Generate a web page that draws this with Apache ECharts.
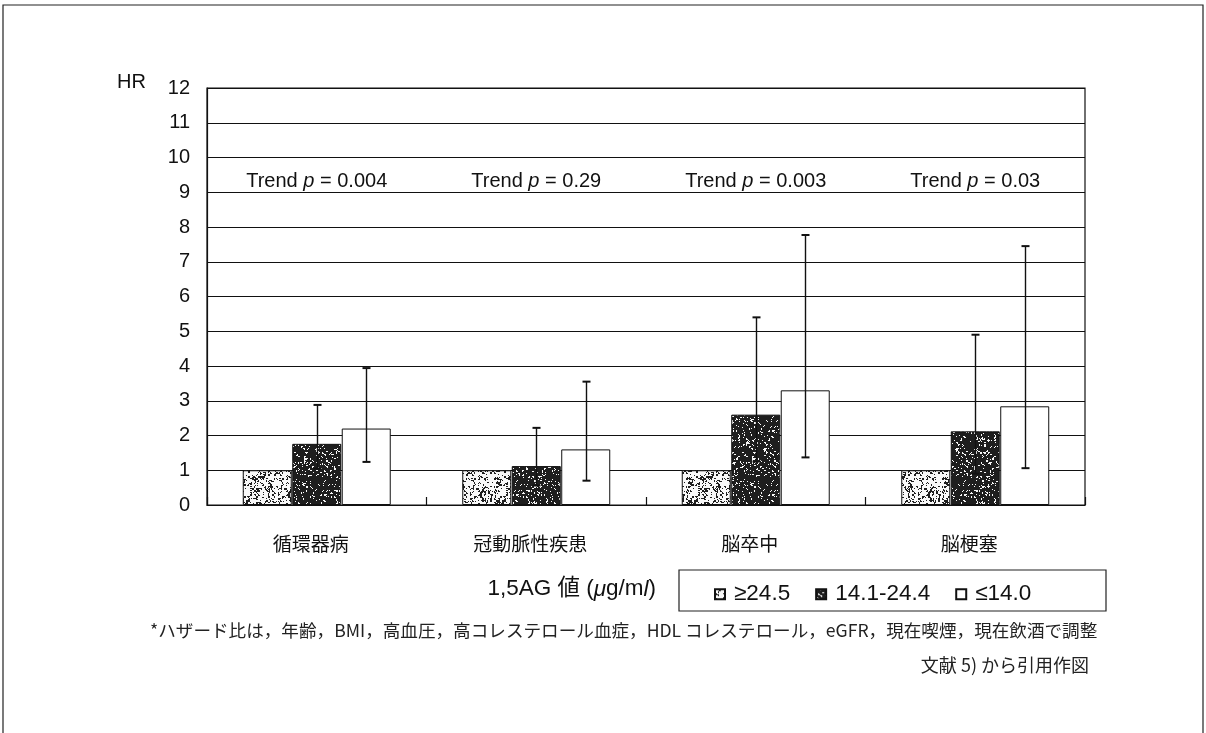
<!DOCTYPE html>
<html>
<head>
<meta charset="utf-8">
<script src="https://cdn.jsdelivr.net/npm/echarts@6/dist/echarts.min.js"></script>
<style>
  html, body { margin: 0; padding: 0; background: #fff; }
  #chart { width: 1206px; height: 733px; }
</style>
</head>
<body>
<div id="chart"></div>
<script>
// Disease endpoints on the x axis
const categories = ['循環器病', '冠動脈性疾患', '脳卒中', '脳梗塞'];
// 1,5AG groups (μg/ml)
const groupNames = ['≥24.5', '14.1-24.4', '≤14.0'];
// Hazard ratios per group
const hrHigh = [1, 1, 1, 1];
const hrMid = [1.76, 1.12, 2.6, 2.12];
const hrLow = [2.2, 1.6, 3.3, 2.84];
// 95% confidence intervals [lower, upper]
const ciHigh = [[1, 1], [1, 1], [1, 1], [1, 1]];
const ciMid = [[1.05, 2.88], [0.56, 2.22], [1.25, 5.4], [0.9, 4.9]];
const ciLow = [[1.24, 3.94], [0.7, 3.55], [1.37, 7.77], [1.06, 7.45]];
// Trend test p values shown above each endpoint
const trendP = ['0.004', '0.29', '0.003', '0.03'];
const trendLabelY = 9.3;
const yTicks = [0, 1, 2, 3, 4, 5, 6, 7, 8, 9, 10, 11, 12];

const LATIN = '"Liberation Sans", Arial, "Noto Sans CJK JP", sans-serif';
const CJK = '"Noto Sans CJK JP", "Liberation Sans", sans-serif';

// Deterministic speckle texture used to fill the shaded bars
function hash(x, y, s) {
  let n = Math.imul(x, 374761393) + Math.imul(y, 668265263) + Math.imul(s, 2246822519);
  n = Math.imul(n ^ (n >>> 13), 1274126177);
  n = n ^ (n >>> 16);
  return (n >>> 0) / 4294967296;
}
function speckle(density, seed) {
  const size = 64;
  const c = document.createElement('canvas');
  c.width = size; c.height = size;
  const ctx = c.getContext('2d');
  const img = ctx.createImageData(size, size);
  for (let y = 0; y < size; y++) {
    for (let x = 0; x < size; x++) {
      // small clusters: mix a coarse and fine hash
      const coarse = hash(x >> 1, y >> 1, seed);
      const fine = hash(x, y, seed + 7);
      const v = coarse * 0.6 + fine * 0.4;
      const dark = v < density;
      const g = dark ? 30 : 248;
      const i = (y * size + x) * 4;
      img.data[i] = g; img.data[i + 1] = g; img.data[i + 2] = g; img.data[i + 3] = 255;
    }
  }
  ctx.putImageData(img, 0, 0);
  return c;
}
const lightFill = { image: speckle(0.38, 3), repeat: 'repeat' };
const darkFill = { image: speckle(0.76, 11), repeat: 'repeat' };

const fills = [lightFill, darkFill, '#ffffff'];
const values = [hrHigh, hrMid, hrLow];
const cis = [ciHigh, ciMid, ciLow];

const BAR_W = 49;

const barSeries = groupNames.map((name, gi) => ({
  name: name,
  type: 'bar',
  data: values[gi],
  barWidth: BAR_W,
  barGap: '1%',
  itemStyle: { color: fills[gi], borderColor: '#111', borderWidth: 1 },
  z: 2
}));

// Error bars drawn with a custom series; offset matches the bar layout
function errorSeries(gi) {
  return {
    type: 'custom',
    name: groupNames[gi] + ' CI',
    data: cis[gi].map((c, i) => [i, c[0], c[1]]),
    z: 3,
    silent: true,
    renderItem: function (params, api) {
      if (gi === 0) return null;
      const idx = api.value(0);
      const lo = api.coord([idx, api.value(1)]);
      const hi = api.coord([idx, api.value(2)]);
      const offset = (gi - 1) * BAR_W * 1.01;
      const x = Math.round(lo[0] + offset) + 0.5;
      const cap = 4;
      const style = { stroke: '#111', lineWidth: 1.4 };
      return {
        type: 'group',
        children: [
          { type: 'line', shape: { x1: x, y1: lo[1], x2: x, y2: hi[1] }, style: style },
          { type: 'line', shape: { x1: x - cap, y1: hi[1], x2: x + cap, y2: hi[1] }, style: { stroke: '#111', lineWidth: 2 } },
          { type: 'line', shape: { x1: x - cap, y1: lo[1], x2: x + cap, y2: lo[1] }, style: { stroke: '#111', lineWidth: 2 } }
        ]
      };
    }
  };
}

// Trend p-value annotations
const trendSeries = {
  type: 'scatter',
  name: 'trend',
  symbolSize: 0,
  silent: true,
  itemStyle: { opacity: 1 },
  data: categories.map((c, i) => [i, trendLabelY, trendP[i]]),
  label: {
    show: true,
    position: 'inside',
    color: '#111',
    opacity: 1,
    formatter: function (p) { return '{a|Trend }{i|p}{a| = ' + p.value[2] + '}'; },
    rich: {
      a: { fontFamily: LATIN, fontSize: 20, color: '#111' },
      i: { fontFamily: LATIN, fontSize: 20, fontStyle: 'italic', color: '#111' }
    }
  },
  z: 5
};

const chart = echarts.init(document.getElementById('chart'), null, { renderer: 'canvas' });
chart.setOption({
  backgroundColor: '#ffffff',
  animation: false,
  grid: { left: 207, right: 121, top: 88, bottom: 228, containLabel: false, show: true, borderColor: '#111', borderWidth: 1.2 },
  xAxis: {
    type: 'category',
    data: categories,
    axisLine: { lineStyle: { color: '#111', width: 1.2 } },
    axisTick: { show: true, inside: true, length: 8, lineStyle: { color: '#111', width: 1.2 } },
    axisLabel: { fontFamily: CJK, fontSize: 19, color: '#111', margin: 29, padding: [0, 12, 0, 0] }
  },
  yAxis: {
    type: 'value',
    min: yTicks[0],
    max: yTicks[yTicks.length - 1],
    interval: 1,
    axisLine: { show: true, lineStyle: { color: '#111', width: 1.2 } },
    axisTick: { show: false },
    splitLine: { lineStyle: { color: '#111', width: 1.2 } },
    axisLabel: { fontFamily: LATIN, fontSize: 20, color: '#111', margin: 17 }
  },
  legend: {
    data: groupNames,
    left: 709,
    top: 578,
    itemWidth: 10,
    itemHeight: 10,
    itemGap: 25,
    icon: 'rect',
    textStyle: { fontFamily: LATIN, fontSize: 22.5, color: '#111', padding: [0, 0, 0, 4] }
  },
  series: [...barSeries, errorSeries(0), errorSeries(1), errorSeries(2), trendSeries],
  graphic: [
    // outer frame
    { type: 'rect', shape: { x: 3, y: 5, width: 1200, height: 740 }, style: { fill: 'none', stroke: '#222', lineWidth: 1.2 }, silent: true },
    // y axis unit
    { type: 'text', left: 117, top: 72, style: { text: 'HR', fontFamily: LATIN, fontSize: 20, fill: '#111' } },
    // legend caption and box
    {
      type: 'text', right: 1206 - 656, top: 578,
      style: {
        text: '{a|1,5AG 値 (}{i|μ}{a|g/m}{i|l}{a|)}',
        rich: {
          a: { fontFamily: LATIN, fontSize: 22.5, fill: '#111' },
          i: { fontFamily: LATIN, fontSize: 22.5, fontStyle: 'italic', fill: '#111' }
        }
      }
    },
    { type: 'rect', shape: { x: 679, y: 570, width: 427, height: 41 }, style: { fill: 'none', stroke: '#222', lineWidth: 1.2 }, silent: true },
    // footnote and source
    { type: 'text', left: 150, top: 622, style: { text: '*ハザード比は，年齢，BMI，高血圧，高コレステロール血症，HDL コレステロール，eGFR，現在喫煙，現在飲酒で調整', fontFamily: CJK, fontSize: 17.6, fill: '#222' } },
    { type: 'text', right: 1206 - 1089, top: 656, style: { text: '文献 5) から引用作図', fontFamily: CJK, fontSize: 18, fill: '#222' } }
  ]
});
</script>
</body>
</html>
